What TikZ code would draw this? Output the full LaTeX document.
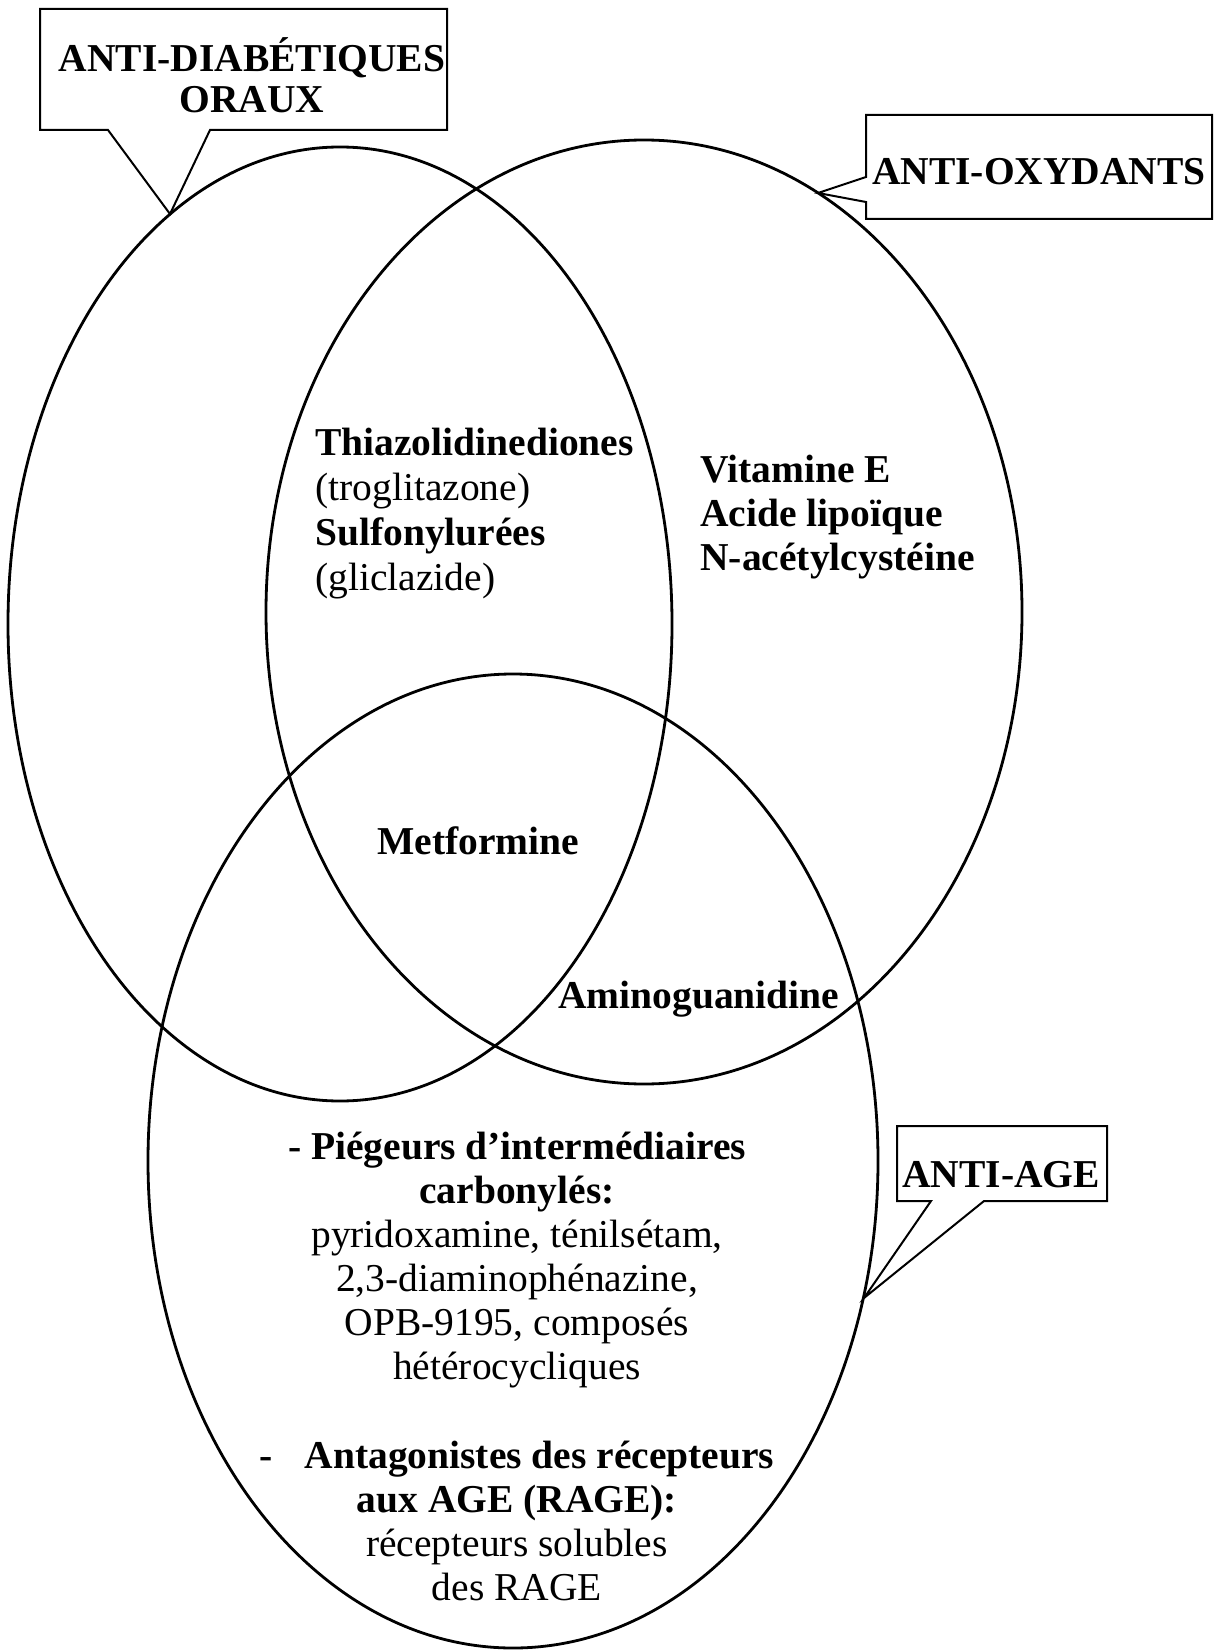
\documentclass[tikz,border=0pt]{standalone}
\usepackage{fontspec}
\setmainfont{Liberation Serif}
\usetikzlibrary{positioning}

\newcommand\corps[1]{\fontsize{19.75}{#1}\selectfont}

\tikzset{
  ens/.style={draw, line width=1.4pt},
  bulle/.style={draw, line width=1pt, line join=miter},
  titre/.style={font=\corps{20.5}\bfseries, inner sep=0pt, align=center, anchor=base},
  liste/.style={font=\corps{22}, inner sep=0pt, align=left, anchor=base west},
  bloc/.style={font=\corps{22}, inner sep=0pt, align=center, anchor=base},
}

\begin{document}
\begin{tikzpicture}[x=0.5pt, y=-0.5pt]
\useasboundingbox[fill=white] (0,0) rectangle (1220,1652);

\draw[ens] (340,624) ellipse [x radius=332, y radius=477];
\draw[ens] (644,612) ellipse [x radius=378, y radius=472];
\draw[ens] (513,1161) ellipse [x radius=365, y radius=487];

\coordinate (pd) at (170,214); \coordinate (po) at (818,193); \coordinate (pa) at (864,1298);
\draw[bulle] (40,9) -- (447,9) -- (447,130) -- (210,130) -- (pd) -- (108,130) -- (40,130) -- cycle;
\draw[bulle] (866,115) -- (1212,115) -- (1212,219) -- (866,219) -- (866,202) -- (po) -- (866,177) -- cycle;
\draw[bulle] (897,1126) -- (1107,1126) -- (1107,1201) -- (984,1201) -- (pa) -- (931,1201) -- (897,1201) -- cycle;

\node[titre] (diab) at (252,113) {ANTI-DIABÉTIQUES\\ORAUX};
\node[titre] (oxy) at (1039,185) {ANTI-OXYDANTS};
\node[titre] (age) at (1001,1187) {ANTI-AGE};

\node[liste, font=\corps{22.5}] (thia) at (315,590) {\textbf{Thiazolidinediones}\\(troglitazone)\\\textbf{Sulfonylurées}\\(gliclazide)};
\node[liste, font=\corps{22}\bfseries] (vit) at (700,570) {Vitamine E\\Acide lipoïque\\N-acétylcystéine};
\node[liste, font=\corps{22}\bfseries] (met) at (377,854) {Metformine};
\node[liste, font=\corps{22}\bfseries] (amino) at (558,1008) {Aminoguanidine};

\node[bloc] (pieg) at (517,1379) {\textbf{- Piégeurs d’intermédiaires}\\\textbf{carbonylés:}\\pyridoxamine, ténilsétam,\\2,3-diaminophénazine,\\OPB-9195, composés\\hétérocycliques};
\node[bloc] (antag) at (517,1600) {\textbf{-\hspace{16pt}Antagonistes des récepteurs}\\\textbf{aux AGE (RAGE):}\\récepteurs solubles\\des RAGE};
\end{tikzpicture}
\end{document}
